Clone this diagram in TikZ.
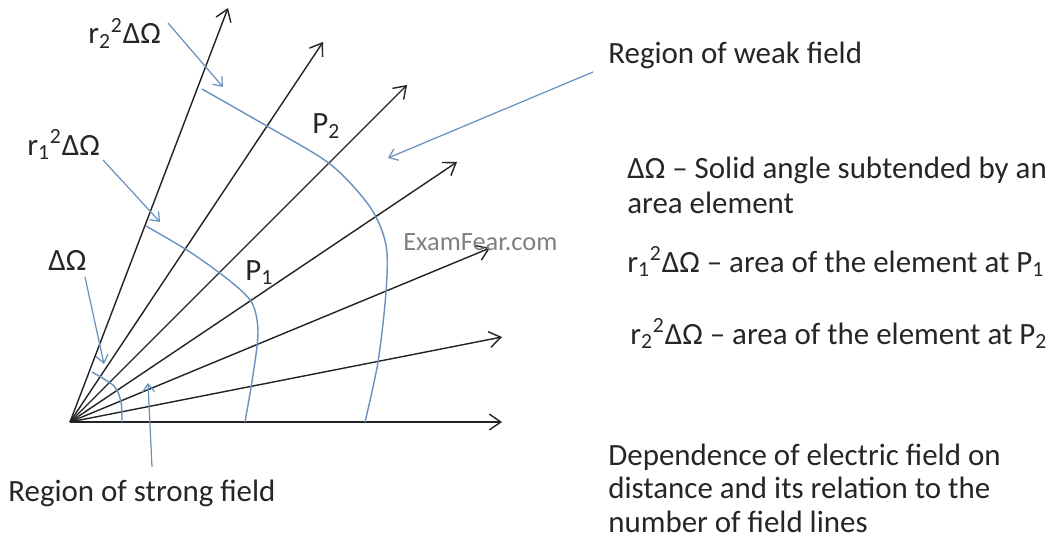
\documentclass[tikz,border=0pt]{standalone}
\usepackage{fontspec}
\setmainfont{Carlito}
\usetikzlibrary{arrows.meta}
\definecolor{fieldblue}{RGB}{105,145,190}
\definecolor{raygray}{RGB}{35,35,35}

\begin{document}
\begin{tikzpicture}[x=0.02cm, y=-0.02cm,
  ray/.style={draw=raygray, line width=0.8pt, -{Straight Barb[length=6.5pt, width=9pt]}},
  surface/.style={draw=fieldblue, line width=0.8pt},
  pointer/.style={draw=fieldblue, line width=0.7pt, -{Straight Barb[length=4.5pt, width=7pt]}},
  txt/.style={font=\fontsize{17.6}{18.8}\selectfont, anchor=base west, inner sep=0pt, text=black!85},
  watermark/.style={font=\fontsize{15}{18}\selectfont, anchor=base west, inner sep=0pt, text=black!50}
]
\fill[white] (0,0) rectangle (1050,547);
\useasboundingbox (0,0) rectangle (1050,547);

% field lines from the charge
\coordinate (origin) at (70,422);
\foreach \n/\px/\py in {a/502/422, b/502/337, c/490/248, d/457/162, e/407/85, f/323/42, g/228/8} {
  \coordinate (tip\n) at (\px,\py);
  \draw[ray] (origin) -- (tip\n);
}

% area elements
\draw[surface] plot[smooth] coordinates {(92,372) (114,386) (121,402) (122,422)};
\draw[surface] plot[smooth] coordinates {(146,226) (190,252) (230,281) (252,303) (258,332) (253,375) (245,422)};
\draw[surface] plot[smooth] coordinates {(202,89) (265,125) (330,164) (370,207) (386,245) (386,292) (378,362) (365,422)};

% labels
\node[txt] (rtwolbl) at (88,44) {r\textsubscript{2}\textsuperscript{2}ΔΩ};
\node[txt] (ronelbl) at (27,155) {r\textsubscript{1}\textsuperscript{2}ΔΩ};
\node[txt] (omegalbl) at (48,270) {ΔΩ};
\node[txt] (pone) at (245,280) {P\textsubscript{1}};
\node[txt] (ptwo) at (312,134) {P\textsubscript{2}};
\node[watermark] (site) at (403,250) {ExamFear.com};
\node[txt] (weak) at (608,64) {Region of weak field};
\node[txt] (strong) at (8,501) {Region of strong field};

\node[txt, align=left, font=\fontsize{17.6}{20}\selectfont] (solid) at (627,214) {ΔΩ – Solid angle subtended by an\\area element};
\node[txt] (rone) at (627,272) {r\textsubscript{1}\textsuperscript{2}ΔΩ – area of the element at P\textsubscript{1}};
\node[txt] (rtwo) at (630,344) {r\textsubscript{2}\textsuperscript{2}ΔΩ – area of the element at P\textsubscript{2}};
\node[txt, align=left] (caption) at (608,532) {Dependence of electric field on\\distance and its relation to the\\number of field lines};

% pointers
\coordinate (rtwofrom) at (168,23);
\coordinate (rtwoto) at (223,87);
\coordinate (ronefrom) at (103,160);
\coordinate (roneto) at (160,222);
\coordinate (omegafrom) at (85,277);
\coordinate (omegato) at (104,364);
\coordinate (strongfrom) at (152,467);
\coordinate (strongto) at (148,383);
\coordinate (weakfrom) at (593,72);
\coordinate (weakto) at (388,158);
\draw[pointer] (rtwofrom) -- (rtwoto);
\draw[pointer] (ronefrom) -- (roneto);
\draw[pointer] (omegafrom) -- (omegato);
\draw[pointer] (strongfrom) -- (strongto);
\draw[pointer] (weakfrom) -- (weakto);
\end{tikzpicture}
\end{document}
